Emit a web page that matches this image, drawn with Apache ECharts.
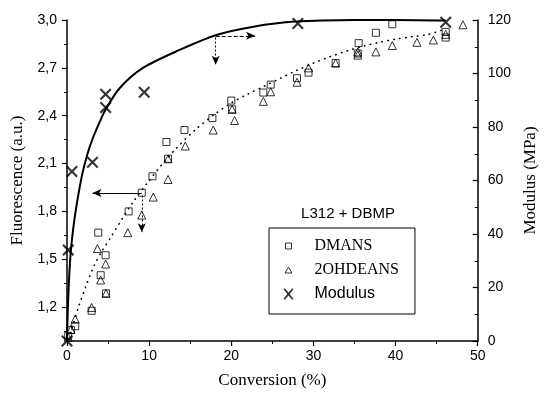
<!DOCTYPE html>
<html><head><meta charset="utf-8">
<script src="https://cdn.jsdelivr.net/npm/echarts@6/dist/echarts.min.js"></script>
<style>html,body{margin:0;padding:0;background:#fff}#c{width:547px;height:394px}</style>
</head><body><div id="c"></div>
<script>
// ---- data ----
const dmans = [[0.15,1.02],[0.47,1.056],[1.0,1.08],[3.0,1.177],[3.8,1.667],[4.1,1.40],[4.7,1.525],[4.75,1.286],[7.5,1.80],[9.1,1.917],[10.4,2.02],[12.1,2.235],[12.3,2.13],[14.3,2.31],[17.7,2.385],[20.0,2.495],[20.1,2.44],[23.9,2.545],[24.8,2.595],[28.0,2.635],[29.4,2.67],[32.7,2.73],[35.5,2.855],[35.4,2.79],[37.6,2.92],[39.6,2.973],[46.1,2.925],[46.1,2.89]];
const ohdeans = [[0.15,1.01],[0.47,1.06],[1.0,1.125],[3.0,1.198],[3.7,1.567],[4.1,1.37],[4.7,1.47],[4.75,1.286],[7.4,1.667],[9.1,1.777],[10.5,1.89],[12.3,2.0],[12.3,2.13],[14.4,2.21],[17.8,2.31],[20.1,2.44],[20.4,2.37],[23.9,2.49],[24.8,2.55],[28.0,2.61],[29.4,2.70],[32.7,2.73],[35.4,2.80],[35.4,2.78],[37.6,2.80],[39.6,2.84],[42.6,2.86],[44.6,2.875],[46.1,2.91],[48.2,2.97]];
const modulus = [[0,0],[0.15,34],[0.6,63.4],[3.1,66.8],[4.7,92.2],[4.7,87.3],[9.4,93],[28.1,118.7],[46.1,119.2]];
const modulusFit = [[0,0],[0.1,12],[0.25,23],[0.45,33],[0.7,40.5],[1.0,47.5],[1.4,55],[1.9,63],[2.5,70],[3.1,75.5],[4.0,82],[4.7,86.5],[6.4,94.5],[9.2,102],[13.7,108.8],[18.2,114.4],[22.7,117.5],[27.8,119.4],[35,120],[40,120],[46.1,119.8]];
const fluorFit = [[0.2,1.0],[0.8,1.1],[1.4,1.2],[2.3,1.33],[3.3,1.46],[4.3,1.555],[5.3,1.635],[6.8,1.76],[8,1.855],[9.8,1.98],[11.5,2.09],[13.3,2.195],[15.8,2.32],[18,2.41],[20,2.48],[22,2.535],[24,2.585],[26,2.635],[28,2.685],[30,2.73],[32,2.77],[34,2.805],[36,2.835],[38,2.86],[40,2.88],[42,2.895],[44,2.91],[45.8,2.94]];
const leftMajor = [1.2,1.5,1.8,2.1,2.4,2.7,3.0];
const leftMinor = [1.05,1.35,1.65,1.95,2.25,2.55,2.85];
// arrows: [from, to]
const arrowsModulus = [[[18.1,114.1],[22.9,114.1]]];
const arrowsFluorLeft = [[[9.1,1.915],[3.1,1.915]]];
const arrowsFluorDown = [[[18.1,2.89],[18.1,2.72]],[[9.1,1.90],[9.1,1.67]]];

const L_MIN = 0.9875, L_MAX = 3.0;
const fmt = v => (Math.round(v*10)/10).toFixed(1).replace('.', ',');
const XPATH = 'path://M0,1.5L1.5,0L6,4.5L10.5,0L12,1.5L7.5,6L12,10.5L10.5,12L6,7.5L1.5,12L0,10.5L4.5,6Z';
const tickFont = {fontFamily:'Liberation Sans', fontSize:14, color:'#000'};
const nameFont = {fontFamily:'Liberation Serif', fontSize:17, color:'#000'};

const chart = echarts.init(document.getElementById('c'));
chart.setOption({
  animation:false,
  backgroundColor:'#fff',
  grid:{left:67, right:55, top:20, bottom:52},
  title:{text:'L312 + DBMP', left:343, top:201, textAlign:'center',
    textStyle:{fontFamily:'Liberation Sans', fontSize:15, fontWeight:'normal', color:'#000'}},
  legend:{
    orient:'vertical', left:269, top:228, padding:[10,16,12,12], itemGap:8,
    itemWidth:14, itemHeight:14, borderColor:'#000', borderWidth:1, borderRadius:0,
    selectedMode:false,
    itemStyle:{borderWidth:1},
    data:[
      {name:'DMANS', icon:'path://M0,0M14,14M4,4L10,4L10,10L4,10Z'},
      {name:'2OHDEANS', icon:'path://M0,0M14,14M7,4L10.5,10L3.5,10Z'},
      {name:'Modulus', icon:'path://M0,0M14,14M2,2.3L3.3,1.2L7,5.4L10.7,1.2L12,2.3L8.2,6.9L12,11.7L10.7,12.8L7,8.4L3.3,12.8L2,11.7L5.8,6.9Z', itemStyle:{borderWidth:0}}
    ],
    formatter: n => n === 'Modulus' ? '{s|' + n + '}' : '{r|' + n + '}',
    textStyle:{color:'#000', rich:{
      r:{fontFamily:'Liberation Serif', fontSize:16, lineHeight:18, padding:[0,0,0,14], color:'#000'},
      s:{fontFamily:'Liberation Sans', fontSize:16, lineHeight:18, padding:[0,0,0,14], color:'#000'}
    }}
  },
  xAxis:{
    type:'value', min:0, max:50, interval:10,
    name:'Conversion (%)', nameLocation:'middle', nameGap:31, nameTextStyle:nameFont,
    axisLine:{show:true, onZero:false, lineStyle:{color:'#000', width:1.5}},
    axisTick:{show:true, length:5, lineStyle:{color:'#000', width:1.2}},
    minorTick:{show:true, splitNumber:2, length:3, lineStyle:{color:'#000', width:1}},
    axisLabel:{...tickFont, margin:8},
    splitLine:{show:false}
  },
  yAxis:[
    {type:'value', min:L_MIN, max:L_MAX, position:'left',
     name:'Fluorescence (a.u.)', nameLocation:'middle', nameGap:41, nameRotate:90, nameTextStyle:nameFont,
     axisLine:{show:true, onZero:false, lineStyle:{color:'#000', width:1.5}},
     axisTick:{show:true, length:5, customValues:leftMajor, lineStyle:{color:'#000', width:1.2}},
     axisLabel:{...tickFont, margin:10, customValues:leftMajor, formatter:fmt},
     splitLine:{show:false}},
    {type:'value', min:L_MIN, max:L_MAX, position:'left',
     axisLine:{show:false},
     axisTick:{show:true, length:3, customValues:leftMinor, lineStyle:{color:'#000', width:1}},
     axisLabel:{show:false, customValues:leftMinor},
     splitLine:{show:false}},
    {type:'value', min:0, max:120, interval:20, position:'right',
     name:'Modulus (MPa)', nameLocation:'middle', nameGap:36, nameRotate:90, nameTextStyle:nameFont,
     axisLine:{show:true, onZero:false, lineStyle:{color:'#000', width:1.5}},
     axisTick:{show:true, inside:true, length:5, lineStyle:{color:'#000', width:1.2}},
     minorTick:{show:true, splitNumber:2, length:3, lineStyle:{color:'#000', width:1}},
     axisLabel:{...tickFont, margin:10},
     splitLine:{show:false}}
  ],
  series:[
    {type:'line', name:'modFit', yAxisIndex:2, data:modulusFit, smooth:0.3,
     showSymbol:false, silent:true, lineStyle:{color:'#000', width:2}, z:2,
     markLine:{silent:true, symbol:['none','arrow'], symbolSize:[6,9], label:{show:false},
       lineStyle:{color:'#000', width:1, type:[4,2]},
       data: arrowsModulus.map(a => [{coord:a[0]},{coord:a[1]}])}},
    {type:'scatter', name:'Modulus', yAxisIndex:2, data:modulus, symbol:XPATH, symbolSize:12,
     itemStyle:{color:'#000'}, z:4},
    {type:'line', name:'fluorFit', yAxisIndex:0, data:fluorFit, smooth:0.3,
     showSymbol:false, silent:true, lineStyle:{color:'#000', width:1.6, type:[0.5,5.5], cap:'round'}, z:2,
     markLine:{silent:true, symbol:['none','arrow'], symbolSize:[6,9], label:{show:false},
       data: [
         ...arrowsFluorLeft.map(a => [{coord:a[0], lineStyle:{color:'#000', width:1, type:'solid'}},{coord:a[1]}]),
         ...arrowsFluorDown.map(a => [{coord:a[0], lineStyle:{color:'#000', width:1, type:[2,2]}},{coord:a[1]}])
       ]}},
    {type:'scatter', name:'DMANS', yAxisIndex:0, data:dmans, symbol:'rect', symbolSize:7,
     itemStyle:{color:'rgba(0,0,0,0)', borderColor:'#000', borderWidth:1}, z:3},
    {type:'scatter', name:'2OHDEANS', yAxisIndex:0, data:ohdeans, symbol:'triangle', symbolSize:8,
     itemStyle:{color:'rgba(0,0,0,0)', borderColor:'#000', borderWidth:1}, z:3}
  ]
});
</script></body></html>
